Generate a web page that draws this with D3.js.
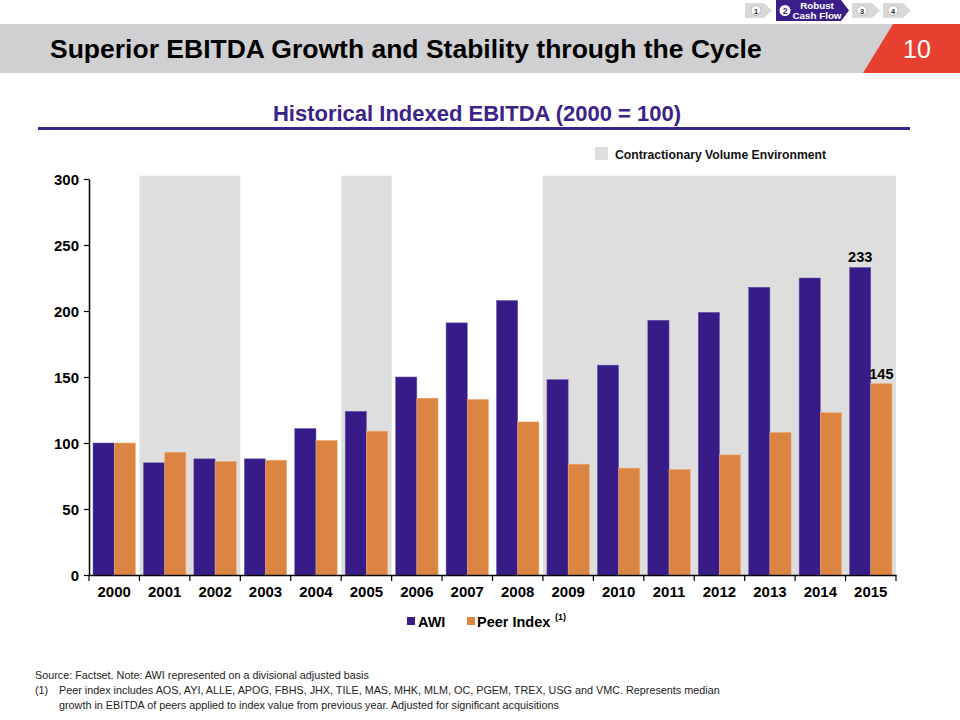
<!DOCTYPE html>
<html><head><meta charset="utf-8">
<script src="https://cdn.jsdelivr.net/npm/d3@7"></script>
<style>body{margin:0;background:#fff;}svg{display:block;font-family:Arial,"Liberation Sans",sans-serif;}</style>
</head><body>
<script>
const years = ["2000","2001","2002","2003","2004","2005","2006","2007","2008","2009","2010","2011","2012","2013","2014","2015"];
const awi = [100,85,88,88,111,124,150,191,208,148,159,193,199,218,225,233];
const peer = [100,93,86,87,102,109,134,133,116,84,81,80,91,108,123,145];
const contraction = [["2001","2002"],["2005","2005"],["2009","2015"]];
const yTicks = [0,50,100,150,200,250,300];
const seriesNames = ["AWI","Peer Index"];
const colors = {awi:"#371c87", peer:"#dc8542", shade:"#dedede"};

const W=960,H=720;
const svg=d3.select("body").append("svg").attr("width",W).attr("height",H);

// header band
svg.append("rect").attr("x",0).attr("y",24).attr("width",W).attr("height",49).attr("fill","#d0d0d2");
svg.append("path").attr("d","M893,24 L960,24 L960,73 L863,73 Z").attr("fill","#e84030");
svg.append("text").attr("x",917).attr("y",58).attr("text-anchor","middle").attr("fill","#fff").attr("font-size",25).text("10");
svg.append("text").attr("x",50).attr("y",58).attr("font-size",26.5).attr("font-weight","bold").attr("fill","#000").text("Superior EBITDA Growth and Stability through the Cycle");

// nav chevrons
function chevron(x,w,fill){
  svg.append("path").attr("d",`M${x},3 L${x+w-8},3 L${x+w},10.5 L${x+w-8},18 L${x},18 Z`).attr("fill",fill);
}
function navNum(cx,cy,n){
  svg.append("circle").attr("cx",cx).attr("cy",cy).attr("r",5).attr("fill","#fff").attr("stroke","#999").attr("stroke-width",0.6);
  svg.append("text").attr("x",cx).attr("y",cy+3).attr("text-anchor","middle").attr("font-size",8).attr("font-weight","bold").attr("fill","#333").text(n);
}
chevron(745,27,"#d9d9d9"); navNum(756,10.5,"1");
svg.append("path").attr("d","M776,0 L841,0 L849,10.5 L841,21 L776,21 Z").attr("fill","#3a1f8a");
svg.append("circle").attr("cx",785).attr("cy",10.5).attr("r",5.5).attr("fill","#fff");
svg.append("text").attr("x",785).attr("y",13.5).attr("text-anchor","middle").attr("font-size",8.5).attr("font-weight","bold").attr("fill","#3a1f8a").text("2");
svg.append("text").attr("x",817).attr("y",9).attr("text-anchor","middle").attr("font-size",9.8).attr("font-weight","bold").attr("fill","#fff").text("Robust");
svg.append("text").attr("x",817).attr("y",19).attr("text-anchor","middle").attr("font-size",9.8).attr("font-weight","bold").attr("fill","#fff").text("Cash Flow");
chevron(852,28,"#d9d9d9"); navNum(862,10.5,"3");
chevron(883,28,"#d9d9d9"); navNum(893,10.5,"4");

// subtitle
svg.append("text").attr("x",477).attr("y",121).attr("text-anchor","middle").attr("font-size",22).attr("font-weight","bold").attr("fill","#3c2387").text("Historical Indexed EBITDA (2000 = 100)");
svg.append("line").attr("x1",38).attr("x2",910).attr("y1",128.5).attr("y2",128.5).attr("stroke","#3c2387").attr("stroke-width",3);

// shade legend
svg.append("rect").attr("x",595).attr("y",147).attr("width",13).attr("height",13).attr("fill",colors.shade);
svg.append("text").attr("x",615).attr("y",159).attr("font-size",12.2).attr("font-weight","bold").attr("fill","#111").text("Contractionary Volume Environment");

// chart
const x0=89,x1=896,yb=575,yt=179;
const x=d3.scaleBand().domain(years).range([x0,x1]).paddingInner(0).paddingOuter(0);
const xi=d3.scaleBand().domain(["awi","peer"]).range([4,x.bandwidth()-4]).padding(0);
const y=d3.scaleLinear().domain([0,300]).range([yb,yt]);

const g=svg.append("g");
contraction.forEach(([a,b])=>{
  g.append("rect").attr("x",x(a)).attr("y",y(302.5)).attr("width",x(b)+x.bandwidth()-x(a)).attr("height",yb-y(302.5)).attr("fill",colors.shade);
});

const grp=g.selectAll(".yr").data(years.map((yr,i)=>({yr,awi:awi[i],peer:peer[i]}))).enter().append("g").attr("transform",d=>`translate(${x(d.yr)},0)`);
grp.append("rect").attr("x",xi("awi")).attr("width",xi.bandwidth()).attr("y",d=>y(d.awi)).attr("height",d=>yb-y(d.awi)).attr("fill",colors.awi).attr("stroke","#6a5ab0").attr("stroke-width",0.5);
grp.append("rect").attr("x",xi("peer")).attr("width",xi.bandwidth()).attr("y",d=>y(d.peer)).attr("height",d=>yb-y(d.peer)).attr("fill",colors.peer).attr("stroke","#f0b080").attr("stroke-width",0.5);

// labels on last
const last=years.length-1;
g.append("text").attr("x",x(years[last])+xi("awi")+xi.bandwidth()/2).attr("y",y(awi[last])-5).attr("text-anchor","middle").attr("font-size",14.5).attr("font-weight","bold").text(awi[last]);
g.append("text").attr("x",x(years[last])+xi("peer")+xi.bandwidth()/2).attr("y",y(peer[last])-5).attr("text-anchor","middle").attr("font-size",14.5).attr("font-weight","bold").text(peer[last]);

// axes
const yAxis=d3.axisLeft(y).tickValues(yTicks).tickSize(5).tickSizeOuter(0);
const ya=svg.append("g").attr("transform",`translate(${x0},0)`).call(yAxis);
ya.select(".domain").attr("stroke","#000").attr("stroke-width",1.5);
ya.selectAll(".tick line").attr("stroke","#000").attr("stroke-width",1.2);
ya.selectAll("text").attr("font-size",15).attr("font-weight","bold").attr("fill","#000").attr("x",-10).attr("dy","0.35em");

const xAxis=d3.axisBottom(x).tickSize(0).tickSizeOuter(0);
const xa=svg.append("g").attr("transform",`translate(0,${yb})`).call(xAxis);
xa.select(".domain").attr("stroke","#000").attr("stroke-width",1.5);
xa.selectAll("text").attr("font-size",15).attr("font-weight","bold").attr("fill","#000").attr("y",11).attr("dy","0.71em");
// boundary ticks
const bounds=years.map(d=>x(d)).concat([x1]);
svg.append("g").selectAll("line").data(bounds).enter().append("line").attr("x1",d=>d).attr("x2",d=>d).attr("y1",yb).attr("y2",yb+6).attr("stroke","#000").attr("stroke-width",1.2);

// bottom legend
svg.append("rect").attr("x",407).attr("y",617).attr("width",8).attr("height",8).attr("fill",colors.awi);
svg.append("text").attr("x",418).attr("y",627).attr("font-size",14.5).attr("font-weight","bold").text(seriesNames[0]);
svg.append("rect").attr("x",467).attr("y",617).attr("width",8).attr("height",8).attr("fill",colors.peer);
svg.append("text").attr("x",477).attr("y",627).attr("font-size",14.5).attr("font-weight","bold").text(seriesNames[1]);
svg.append("text").attr("x",555).attr("y",620).attr("font-size",9).attr("font-weight","bold").text("(1)");

// footer
const ft=svg.append("g").attr("font-size",10.8).attr("fill","#222");
ft.append("text").attr("x",35).attr("y",679).text("Source: Factset. Note: AWI represented on a divisional adjusted basis");
ft.append("text").attr("x",35).attr("y",694).text("(1)");
ft.append("text").attr("x",59).attr("y",694).text("Peer index includes AOS, AYI, ALLE, APOG, FBHS, JHX, TILE, MAS, MHK, MLM, OC, PGEM, TREX, USG and VMC.  Represents median");
ft.append("text").attr("x",59).attr("y",709).text("growth in EBITDA of peers applied to index value from previous year.  Adjusted for significant acquisitions");
</script>
</body></html>
